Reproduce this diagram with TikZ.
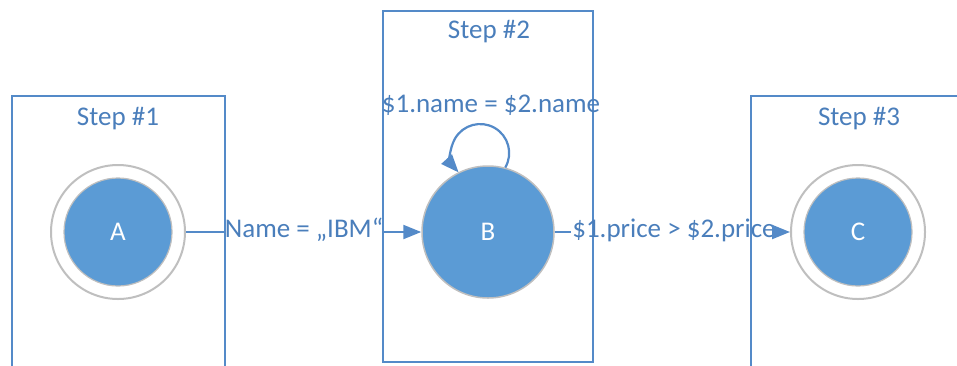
\documentclass[tikz,border=0pt]{standalone}
\usepackage{fontspec}
\setmainfont{Carlito}
\usetikzlibrary{arrows.meta}
\definecolor{edgeblue}{RGB}{84,138,200}
\definecolor{txtblue}{RGB}{74,126,187}
\definecolor{statefill}{RGB}{91,155,213}
\definecolor{ringgray}{RGB}{191,191,191}
\tikzset{
  x=1pt, y=-1pt,
  every node/.style={font=\fontsize{27}{32}\selectfont},
  stepbox/.style={draw=edgeblue, line width=2.2pt},
  steptitle/.style={text=txtblue, anchor=base, inner sep=0pt},
  ring/.style={circle, draw=ringgray, line width=2pt, fill=white, minimum size=134pt, inner sep=0pt},
  statecore/.style={circle, draw=ringgray, line width=1.2pt, fill=statefill, text=white, minimum size=108pt, inner sep=0pt},
  bigstate/.style={circle, draw=ringgray, line width=1.5pt, fill=statefill, text=white, minimum size=132pt, inner sep=0pt},
  cond/.style={text=txtblue, inner sep=1pt, text height=18pt, text depth=8pt},
  flow/.style={draw=edgeblue, line width=2.2pt},
  flowarrow/.style={flow, -{Triangle[length=18pt,width=14pt]}},
}
\begin{document}
\begin{tikzpicture}
  \useasboundingbox (0,0) rectangle (957,365);

  % the three step frames (the outer two run off the page)
  \draw[stepbox] (12,400) -- (12,96) -- (225,96) -- (225,400);
  \draw[stepbox] (383,11) rectangle (593,362);
  \draw[stepbox] (1000,96) -- (751,96) -- (751,400);

  \node[steptitle] (t1) at (118,125) {Step \#1};
  \node[steptitle] (t2) at (489,38) {Step \#2};
  \node[steptitle] (t3) at (859,125) {Step \#3};

  % states
  \node[ring] (A) at (118,232) {};
  \node[statecore] (Ac) at (A.center) {A};
  \node[bigstate] (B) at (488,232) {B};
  \node[ring] (C) at (858,232) {};
  \node[statecore] (Cc) at (C.center) {C};

  % transition conditions
  \node[cond] (l1) at (304,232) {Name = „IBM“};
  \node[cond] (l2) at (674,232) {\$1.price > \$2.price};
  \node[text=txtblue, anchor=base, inner sep=0pt] (l3) at (491,112) {\$1.name = \$2.name};

  % transitions (y grows downwards, so the self loop runs with falling angles)
  \draw[flow] (A) -- (l1);
  \draw[flowarrow] (l1) -- (B);
  \draw[flow] (B) -- (l2);
  \draw[flowarrow] (l2) -- (C);
  \draw[flowarrow] (B.75) arc[start angle=30, end angle=-222, radius=29];
\end{tikzpicture}
\end{document}
